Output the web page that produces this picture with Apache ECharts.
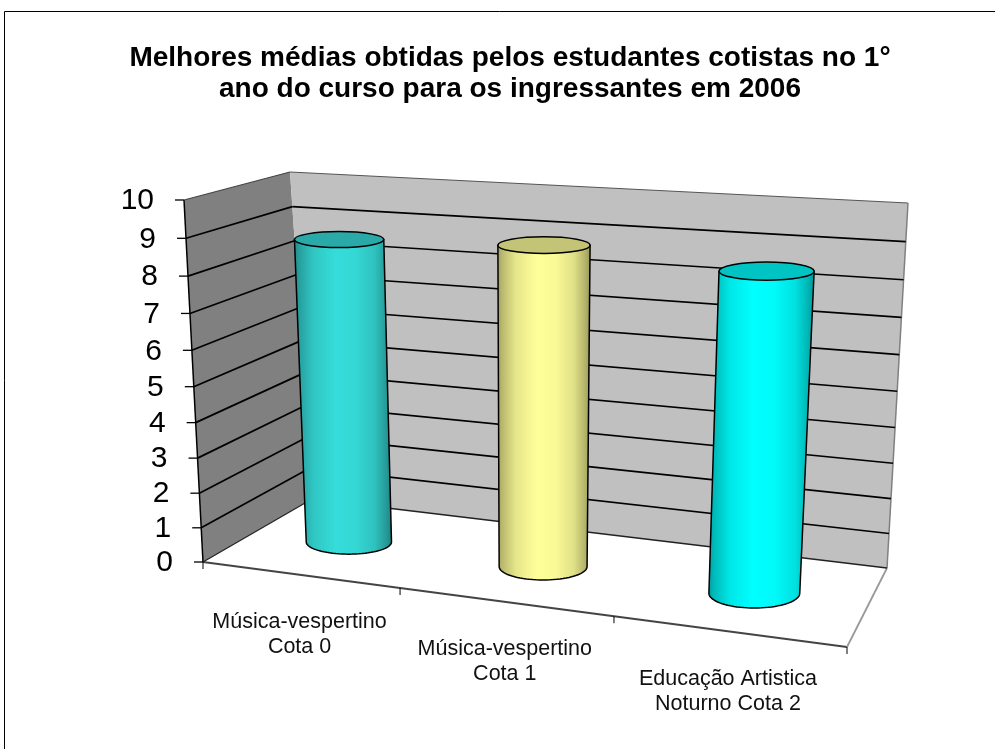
<!DOCTYPE html>
<html>
<head>
<meta charset="utf-8">
<style>html,body{margin:0;padding:0;background:#fff}#c{width:995px;height:749px}</style>
<script src="https://cdn.jsdelivr.net/npm/echarts@6/dist/echarts.min.js"></script>
</head>
<body>
<div id="c"></div>
<script>
// ---- data ----
const categories = ['Música-vespertino\nCota 0', 'Música-vespertino\nCota 1', 'Educação Artistica\nNoturno Cota 2'];
const values = [8.7, 8.9, 8.6];
const tickLabels = ['0','1','2','3','4','5','6','7','8','9','10'];
const titleText = 'Melhores médias obtidas pelos estudantes cotistas no 1°\nano do curso para os ingressantes em 2006';

// ---- style ----
const barColors = ['#35dcd9', '#ffff99', '#00ffff'];
const FONT = '"Liberation Sans", Arial, sans-serif';

// ---- 3D look: corners of the floor and of the plane at the axis maximum ----
const FLOOR = { fl:[203,562], fr:[847,647], bl:[312,499], br:[887,568] };
const ROOF  = { fl:[184,200], fr:[869,241], bl:[290,172], br:[908,203] };
const KU = 1.134, KV = 1.065, BAR_DEPTH = 0.5;

const warp = (t, k) => t / (t + k * (1 - t));
const mix = (a, b, t) => [a[0] + (b[0]-a[0])*t, a[1] + (b[1]-a[1])*t];
function onPlane(P, U, w) { return mix(mix(P.fl, P.fr, U), mix(P.bl, P.br, U), w); }
function project(u, v, w) {
  const U = warp(u, KU), T = warp(v, KV);
  return mix(onPlane(FLOOR, U, w), onPlane(ROOF, U, w), T);
}
// value -> 0..1 through the chart's own axis scale
function vOf(api, params, val) {
  const cs = params.coordSys, p = api.coord([0, val]);
  return (cs.y + cs.height - p[1]) / cs.height;
}
function uOf(api, params, cat) {
  const cs = params.coordSys, p = api.coord([cat, 0]);
  return (p[0] - cs.x) / cs.width;
}
function shade(hex, f) {
  const n = parseInt(hex.slice(1), 16);
  const c = [n >> 16, (n >> 8) & 255, n & 255].map(x => Math.round(x * f));
  return 'rgb(' + c.join(',') + ')';
}
const line = (a, b, stroke, lineWidth) => ({
  type:'line', shape:{x1:a[0], y1:a[1], x2:b[0], y2:b[1]}, style:{stroke, lineWidth}, silent:true
});
const poly = (pts, fill) => ({ type:'polygon', shape:{points:pts}, style:{fill, stroke:null}, silent:true });

const chart = echarts.init(document.getElementById('c'), null, {renderer:'canvas'});
chart.setOption({
  animation:false,
  backgroundColor:'#fff',
  title:{
    text:titleText, left:505, top:38, textAlign:'center',
    textStyle:{fontFamily:FONT, fontWeight:'bold', fontSize:28, lineHeight:31, color:'#000'}
  },
  graphic:[{ type:'polyline', shape:{points:[[4.5,749],[4.5,11.5],[995,11.5]]}, style:{stroke:'#000', lineWidth:1, fill:null}, silent:true }],
  grid:{left:203, top:200, width:644, height:362},
  xAxis:{type:'category', data:categories, show:false},
  yAxis:{type:'value', min:0, max:10, interval:1, show:false},
  series:[
    { // walls and floor edges
      type:'custom', coordinateSystem:'cartesian2d', z:1, silent:true,
      data:[[0,0]],
      renderItem(params, api){
        const v1 = vOf(api, params, 10), v0 = vOf(api, params, 0);
        const a = project(0,v0,0), b = project(0,v0,1), c = project(0,v1,1), d = project(0,v1,0);
        const e = project(1,v0,1), f = project(1,v1,1), g = project(1,v0,0);
        return {type:'group', children:[
          poly([a,b,c,d], '#808080'),
          poly([b,e,f,c], '#c0c0c0'),
          line(c, f, '#555', 1.2),
          line(f, e, '#808080', 1.5),
          line(a, g, '#444', 1.8),
          line(g, e, '#999', 1.8),
          line(a, d, '#000', 1.5)
        ]};
      }
    },
    { // gridlines, value ticks and value labels
      type:'custom', coordinateSystem:'cartesian2d', z:2, silent:true,
      data:tickLabels.map(t => [0, +t]), encode:{x:0, y:1},
      renderItem(params, api){
        const val = api.value(1), v = vOf(api, params, val);
        const a = project(0,v,0), b = project(0,v,1), c = project(1,v,1);
        const kids = [
          line([a[0]-9, a[1]], a, '#000', 1.3),
          { type:'text', silent:true, style:{ text:tickLabels[params.dataIndex], x:a[0]-30, y:a[1]+1,
            align:'right', verticalAlign:'middle', fontFamily:FONT, fontSize:30, fill:'#000' } }
        ];
        if (val > 0 && val < 10) { kids.push(line(a, b, '#000', 1.7), line(b, c, '#000', 1.7)); }
        else if (val === 0) { kids.push(line(a, b, '#222', 1.2), line(b, c, '#222', 1.7)); }
        else { kids.push(line(a, b, '#444', 1.2)); }
        return {type:'group', children:kids};
      }
    },
    { // category ticks and labels
      type:'custom', coordinateSystem:'cartesian2d', z:2, silent:true,
      data:categories.map((c,i) => [i, 0]), encode:{x:0, y:1},
      renderItem(params, api){
        const i = api.value(0), v0 = vOf(api, params, 0), u = uOf(api, params, i), n = categories.length;
        const p = project(u, v0, 0), t = project(i / n, v0, 0), end = project(1, v0, 0);
        return {type:'group', children:[
          line(t, [t[0], t[1]+7], '#000', 1),
          { type:'text', silent:true, style:{ text:categories[i], x:p[0], y:p[1]+60, align:'center', verticalAlign:'middle',
            fontFamily:FONT, fontSize:21.5, lineHeight:25, fill:'#111' } }
        ].concat(i === n-1 ? [line(end, [end[0], end[1]+7], '#000', 1)] : [])};
      }
    },
    { // cylinders
      type:'custom', coordinateSystem:'cartesian2d', z:3, silent:true,
      data:values.map((v,i) => [i, v]), encode:{x:0, y:1},
      renderItem(params, api){
        const i = api.value(0), val = api.value(1);
        const u = uOf(api, params, i), v = vOf(api, params, val), v0 = vOf(api, params, 0);
        const U = warp(u, KU), T = warp(v, KV);
        const base = project(u, v0, BAR_DEPTH), top = project(u, v, BAR_DEPTH);
        top[0] += 3.4 * (1 - U) * T;
        const rxB = 42 + 4.2 * U, rxT = rxB * (1 + 0.055 * T);
        const ryB = 11.5 + 4 * U, ryT = ryB + (T / 0.86) * ((7.8 + 1.5 * U) - ryB);
        const pts = [[top[0]-rxT, top[1]], [top[0]+rxT, top[1]]];
        for (let k = 0; k <= 40; k++) {
          const a = Math.PI * k / 40;
          pts.push([base[0] + rxB * Math.cos(a), base[1] + ryB * Math.sin(a)]);
        }
        const col = barColors[i];
        const grad = new echarts.graphic.LinearGradient(0,0,1,0,[
          {offset:0, color:shade(col,.6)}, {offset:.05, color:shade(col,.72)}, {offset:.2, color:shade(col,.9)},
          {offset:.42, color:shade(col,1)}, {offset:.62, color:shade(col,.98)}, {offset:.82, color:shade(col,.88)},
          {offset:.94, color:shade(col,.7)}, {offset:1, color:shade(col,.58)}
        ]);
        return {type:'group', children:[
          {type:'polygon', shape:{points:pts}, style:{fill:grad, stroke:'#000', lineWidth:1.5}, silent:true},
          {type:'ellipse', shape:{cx:top[0], cy:top[1], rx:rxT, ry:ryT}, style:{fill:shade(col,.77), stroke:'#000', lineWidth:1.5}, silent:true}
        ]};
      }
    }
  ]
});
</script>
</body>
</html>
